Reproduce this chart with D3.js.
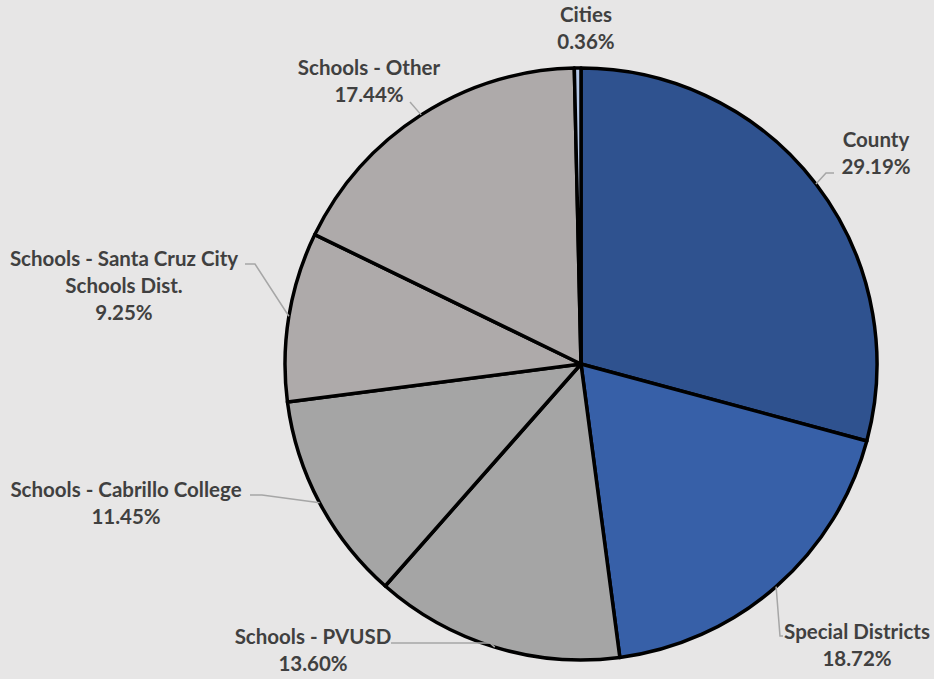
<!DOCTYPE html>
<html><head><meta charset="utf-8">
<script src="https://cdn.jsdelivr.net/npm/d3@7"></script>
<style>
html,body{margin:0;padding:0;background:#E7E6E6;}
svg{display:block;}
text{font-family:Lato, "Open Sans", sans-serif;font-weight:bold;fill:#404040;}
</style></head>
<body>
<svg id="chart" width="934" height="679"></svg>
<script>
const categories = ["County","Special Districts","Schools - PVUSD","Schools - Cabrillo College","Schools - Santa Cruz City Schools Dist.","Schools - Other","Cities"];
const values = [29.19, 18.72, 13.60, 11.45, 9.25, 17.44, 0.36];
const labelLines = [["County"],["Special Districts"],["Schools - PVUSD"],["Schools - Cabrillo College"],["Schools - Santa Cruz City","Schools Dist."],["Schools - Other"],["Cities"]];
const colors = ["#2F528F","#3760A8","#A5A5A5","#A5A5A5","#AEAAAA","#AEAAAA","#B4C7E7"];

// label layout (text centre x, first baseline y, leader waypoints)
const labelPos = [
  {x:876, y:147, lead:[[826,173],[834,173]]},
  {x:857, y:639, lead:[[780,636],[783,636]]},
  {x:313, y:644, lead:[[490,643],[391,643]]},
  {x:126, y:497, lead:[[262,495],[250,495]]},
  {x:124, y:266, lead:[[255,264],[245,264]]},
  {x:369, y:75,  lead:[[410,102]]},
  {x:586, y:22,  lead:null}
];

const svg = d3.select("#chart");
const cx = 581, cy = 364, r = 296;
const g = svg.append("g").attr("transform",`translate(${cx},${cy})`);

const data = categories.map((c,i)=>({name:c, value:values[i], i}));
const pie = d3.pie().value(d=>d.value).sort(null);
const arcs = pie(data);
const arc = d3.arc().innerRadius(0).outerRadius(r);

g.selectAll("path.slice").data(arcs).join("path")
  .attr("class","slice")
  .attr("d",arc)
  .attr("fill",d=>colors[d.data.i])
  .attr("stroke","#000")
  .attr("stroke-width",3.5)
  .attr("stroke-linejoin","round");

const line = d3.line();
arcs.forEach(a=>{
  const lp = labelPos[a.data.i];
  if(lp.lead){
    const mid = (a.startAngle+a.endAngle)/2;
    const p0 = [cx + r*Math.sin(mid), cy - r*Math.cos(mid)];
    svg.append("path")
      .attr("d", line([p0, ...lp.lead]))
      .attr("fill","none")
      .attr("stroke","#A6A6A6")
      .attr("stroke-width",1.5);
  }
  const lines = labelLines[a.data.i].concat([values[a.data.i].toFixed(2)+"%"]);
  const t = svg.append("text").attr("text-anchor","middle").attr("font-size",20.5);
  lines.forEach((s,k)=>{
    t.append("tspan").attr("x",lp.x).attr("y",lp.y + k*27).text(s);
  });
});
</script>
</body></html>
